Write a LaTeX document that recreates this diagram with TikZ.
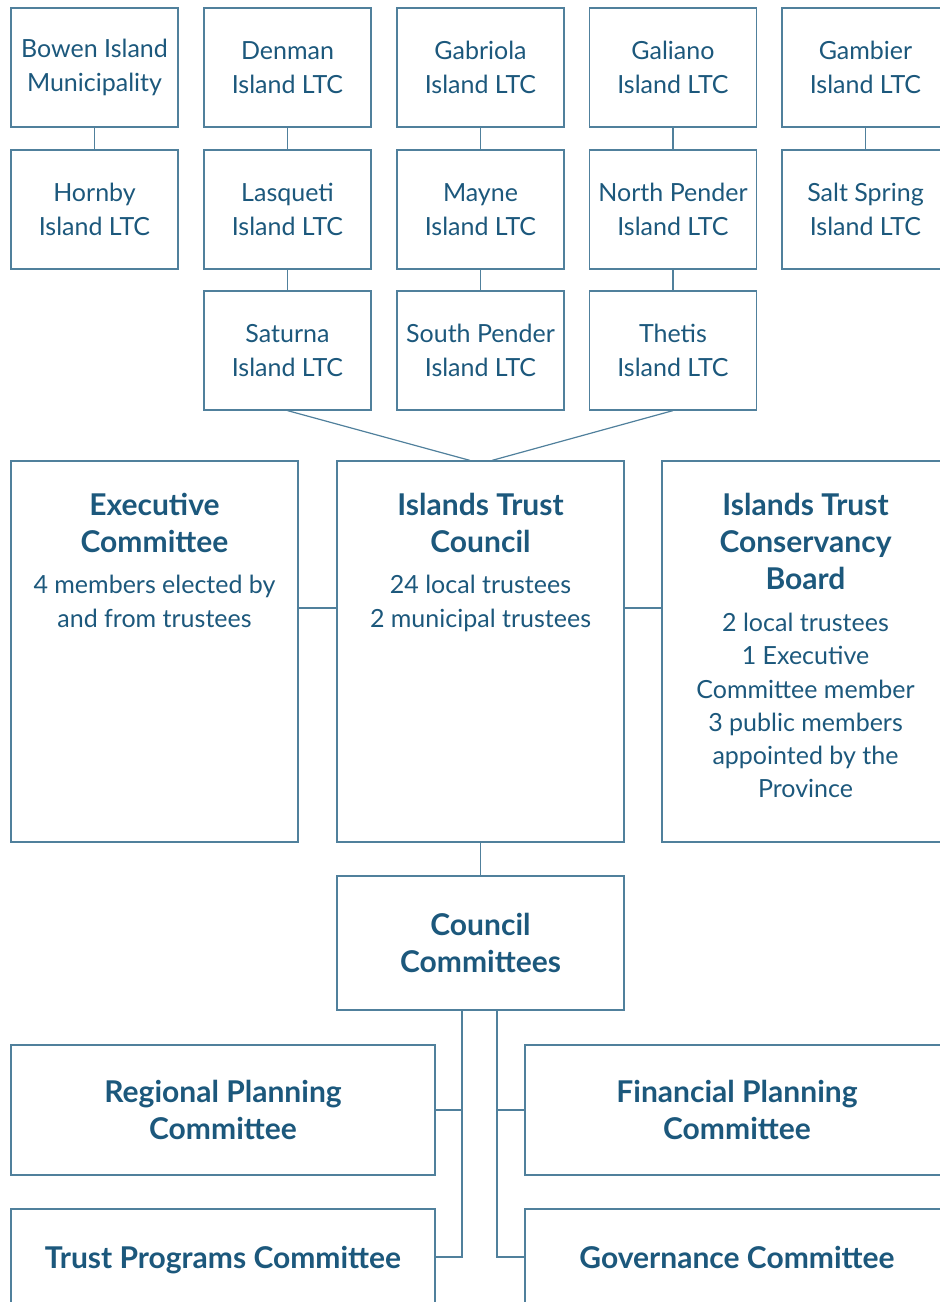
\documentclass[tikz,border=0pt]{standalone}
\usepackage{fontspec}
\setmainfont{Lato}
\definecolor{ittext}{RGB}{28,88,124}
\definecolor{itline}{RGB}{80,128,156}
\newcommand{\ittitle}{\fontsize{15}{18.5}\selectfont\bfseries}
\newcommand{\itbody}{\fontsize{12.5}{17}\selectfont}
\tikzset{
  ltc/.style={draw=itline, line width=0.6pt, minimum width=83.5pt, minimum height=59.5pt,
    inner sep=0pt, align=center, text=ittext, font=\itbody},
  bigbox/.style={draw=itline, line width=0.6pt, minimum width=143.5pt, minimum height=190.5pt, inner sep=0pt},
  combox/.style={draw=itline, line width=0.6pt, minimum width=212pt, minimum height=65pt,
    inner sep=0pt, align=center, text=ittext, font=\ittitle},
  titletext/.style={anchor=north, inner sep=0pt, align=center, text=ittext, font=\ittitle},
  bodytext/.style={anchor=north, inner sep=0pt, align=center, text=ittext, font=\itbody},
  link/.style={draw=itline, line width=0.6pt}
}
\begin{document}
\begin{tikzpicture}[x=0.5pt,y=-0.5pt]
\useasboundingbox (0,0) rectangle (940,1302);
\clip (0,0) rectangle (940,1302);

% local trust committees
\node[ltc] (bowen)   at (94.5,67.5)  {Bowen Island\\Municipality};
\node[ltc] (denman)  at (287.5,67.5) {Denman\\Island LTC};
\node[ltc] (gabriola) at (480.5,67.5) {Gabriola\\Island LTC};
\node[ltc] (galiano) at (673,67.5)   {Galiano\\Island LTC};
\node[ltc] (gambier) at (865.5,67.5) {Gambier\\Island LTC};
\node[ltc] (hornby)  at (94.5,209.5)  {Hornby\\Island LTC};
\node[ltc] (lasqueti) at (287.5,209.5) {Lasqueti\\Island LTC};
\node[ltc] (mayne)   at (480.5,209.5) {Mayne\\Island LTC};
\node[ltc] (npender) at (673,209.5)   {North Pender\\Island LTC};
\node[ltc] (saltspring) at (865.5,209.5) {Salt Spring\\Island LTC};
\node[ltc] (saturna) at (287.5,350.5) {Saturna\\Island LTC};
\node[ltc] (spender) at (480.5,350.5) {South Pender\\Island LTC};
\node[ltc] (thetis)  at (673,350.5)   {Thetis\\Island LTC};

\draw[link] (bowen) -- (hornby);
\draw[link] (denman) -- (lasqueti);
\draw[link] (gabriola) -- (mayne);
\draw[link] (galiano) -- (npender);
\draw[link] (gambier) -- (saltspring);
\draw[link] (lasqueti) -- (saturna);
\draw[link] (mayne) -- (spender);
\draw[link] (npender) -- (thetis);

% council and boards
\node[bigbox] (exec)    at (154.5,651.5) {};
\node[bigbox] (council) at (480.5,651.5) {};
\node[bigbox] (conserv) at (805.5,651.5) {};
\node[titletext] (exectitle) at ([yshift=-16.3pt]exec.north) {Executive\\Committee};
\node[bodytext] (execbody) at ([yshift=-57.25pt]exec.north) {4 members elected by\\and from trustees};
\node[titletext] (counciltitle) at ([yshift=-16.3pt]council.north) {Islands Trust\\Council};
\node[bodytext] (councilbody) at ([yshift=-57.25pt]council.north) {24 local trustees\\2 municipal trustees};
\node[titletext] (conservtitle) at ([yshift=-16.3pt]conserv.north) {Islands Trust\\Conservancy\\Board};
\node[bodytext, font=\fontsize{12.5}{16.6}\selectfont] (conservbody) at ([yshift=-76.25pt]conserv.north)
  {2 local trustees\\1 Executive\\Committee member\\3 public members\\appointed by the\\Province};

\draw[link] (saturna.south) -- ([xshift=-5.25pt]council.north);
\draw[link] (thetis.south) -- ([xshift=5.75pt]council.north);
\draw[link] ([yshift=21.75pt]exec.east) -- ([yshift=21.75pt]council.west);
\draw[link] ([yshift=21.75pt]council.east) -- ([yshift=21.75pt]conserv.west);

% council committees
\node[combox, minimum width=143.5pt, minimum height=67pt] (cc) at (480.5,943) {Council\\Committees};
\draw[link] (council) -- (cc);
\coordinate (ccleft)  at ([xshift=-9.25pt]cc.south);
\coordinate (ccright) at ([xshift=8.25pt]cc.south);

\node[combox] (rpc) at (223,1110) {Regional Planning\\Committee};
\node[combox] (fpc) at (737,1110) {Financial Planning\\Committee};
\node[combox, minimum height=48pt, text depth=0pt] (tpc) at (223,1257) {Trust Programs Committee};
\node[combox, minimum height=48pt, text depth=0pt] (gov) at (737,1257) {Governance Committee};

\draw[link] (ccleft) |- (tpc.east);
\draw[link] (ccright) |- (gov.west);
\draw[link] (rpc.east) -- (rpc.east -| ccleft);
\draw[link] (fpc.west) -- (fpc.west -| ccright);
\end{tikzpicture}
\end{document}
